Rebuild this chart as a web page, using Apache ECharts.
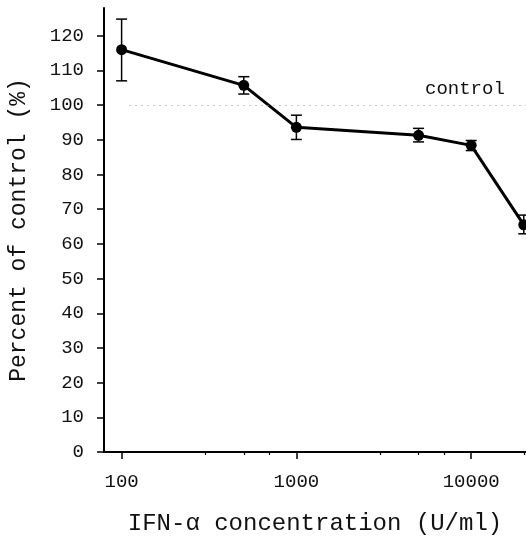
<!DOCTYPE html>
<html>
<head>
<meta charset="utf-8">
<script src="https://cdn.jsdelivr.net/npm/echarts@6/dist/echarts.min.js"></script>
<style>
html,body{margin:0;padding:0;background:#fff;}
#chart{width:526px;height:536px;}
</style>
</head>
<body>
<div id="chart"></div>
<script>
// Data
const concentrations = [100, 500, 1000, 5000, 10000, 20000];
const percentValues = [116, 105.7, 93.6, 91.3, 88.4, 65.5];
const errLow = [107, 103.2, 90.1, 89.4, 86.9, 62.9];
const errHigh = [124.8, 108.2, 97.1, 93.3, 89.8, 68.3];
const controlLevel = 100;
const xMajorTicks = [100, 1000, 10000];
const xMinorTicks = [300, 500, 700, 3000, 5000, 7000, 20000];
const yTicks = [0, 10, 20, 30, 40, 50, 60, 70, 80, 90, 100, 110, 120];

const font = '"Liberation Mono", "Courier New", monospace';
const chart = echarts.init(document.getElementById('chart'));

const lineData = concentrations.map((c, i) => [c, percentValues[i]]);
const errData = concentrations.map((c, i) => [c, errLow[i], errHigh[i]]);

chart.setOption({
  animation: false,
  backgroundColor: '#fff',
  grid: { left: 104, right: 0, top: 8, bottom: 84, containLabel: false, outerBoundsMode: 'none' },
  xAxis: [{
    type: 'log', logBase: 10, min: 79.3, max: 20590,
    name: 'IFN-\u03b1 concentration (U/ml)', nameLocation: 'middle', nameGap: 60,
    nameTextStyle: { fontFamily: font, fontSize: 24, color: '#111' },
    axisLine: { show: true, lineStyle: { color: '#000', width: 2 } },
    axisTick: { show: true, inside: false, length: 7, lineStyle: { color: '#000', width: 1.5 }, customValues: xMajorTicks },
    axisLabel: { show: true, fontFamily: font, fontSize: 19, color: '#111', margin: 20, customValues: xMajorTicks,
      formatter: v => String(Math.round(v)) },
    splitLine: { show: false }, minorTick: { show: false }
  }, {
    type: 'log', logBase: 10, min: 79.3, max: 20590, position: 'bottom',
    axisLine: { show: false },
    axisTick: { show: true, length: 3, lineStyle: { color: '#000', width: 1.2 }, customValues: xMinorTicks },
    axisLabel: { show: false }, splitLine: { show: false }
  }],
  yAxis: {
    type: 'value', min: 0, max: 128,
    name: 'Percent of control (%)', nameLocation: 'middle', nameGap: 74,
    nameTextStyle: { fontFamily: font, fontSize: 23, color: '#111' },
    axisLine: { show: true, lineStyle: { color: '#000', width: 2 } },
    axisTick: { show: true, length: 7, lineStyle: { color: '#000', width: 1.5 }, customValues: yTicks },
    axisLabel: { fontFamily: font, fontSize: 19, color: '#111', margin: 20, customValues: yTicks },
    splitLine: { show: false }
  },
  graphic: [{
    type: 'text', left: 425, top: 79,
    style: { text: 'control', font: '19px ' + font, fill: '#111' }
  }],
  series: [{
    type: 'line', data: lineData, xAxisIndex: 0,
    symbol: 'circle', symbolSize: 11,
    itemStyle: { color: '#000' },
    lineStyle: { color: '#000', width: 3 },
    z: 3,
    markLine: {
      silent: true, symbol: 'none', animation: false,
      label: { show: false },
      lineStyle: { color: '#999', width: 1, type: [1, 5] },
      data: [[{ coord: [111, controlLevel] }, { coord: [20590, controlLevel] }]]
    }
  }, {
    type: 'custom', xAxisIndex: 0, data: errData, z: 4,
    renderItem: function (params, api) {
      const x = api.value(0);
      const lo = api.coord([x, api.value(1)]);
      const hi = api.coord([x, api.value(2)]);
      const hw = 5.5;
      const st = { stroke: '#000', lineWidth: 1.5 };
      return { type: 'group', children: [
        { type: 'line', shape: { x1: lo[0], y1: lo[1], x2: hi[0], y2: hi[1] }, style: st },
        { type: 'line', shape: { x1: lo[0] - hw, y1: lo[1], x2: lo[0] + hw, y2: lo[1] }, style: st },
        { type: 'line', shape: { x1: hi[0] - hw, y1: hi[1], x2: hi[0] + hw, y2: hi[1] }, style: st }
      ]};
    }
  }]
});
</script>
</body>
</html>
